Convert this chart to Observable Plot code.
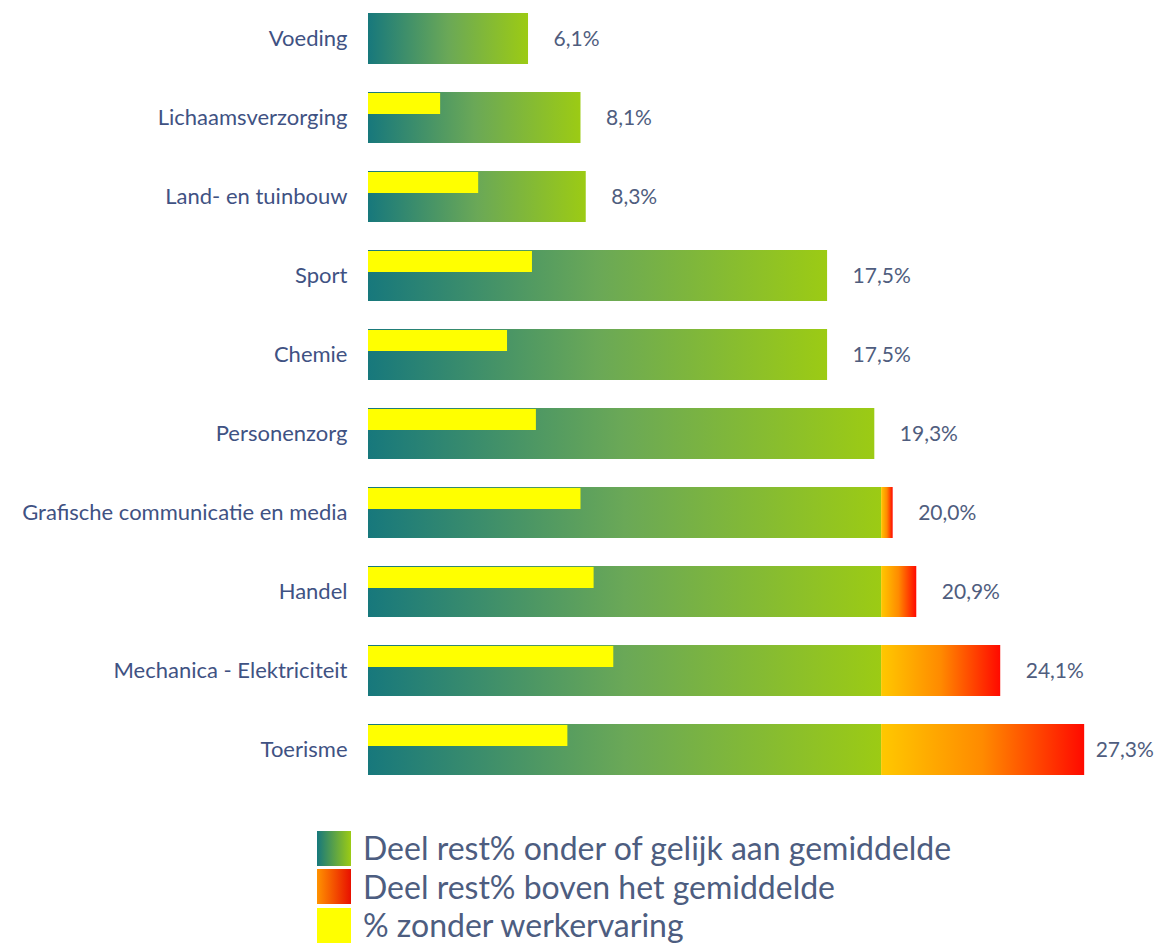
<!DOCTYPE html>
<html>
<head>
<meta charset="utf-8">
<script src="https://cdn.jsdelivr.net/npm/d3@7"></script>
<script src="https://cdn.jsdelivr.net/npm/@observablehq/plot@0.6"></script>
<style>
  body { margin: 0; background: #fff; font-family: Lato, "Open Sans", sans-serif; }
  #chart { position: relative; width: 1162px; }
  .legend { margin-left: 317px; margin-top: 29px; }
  .legend .row { display: flex; align-items: center; height: 38.5px; }
  .legend .sw { width: 34px; height: 35px; margin-right: 12px; }
  .legend .lbl { font-size: 32px; line-height: 38px; color: #4d5d80; white-space: nowrap; }
</style>
</head>
<body>
<div id="chart"></div>
<script>
const categories = [
  "Voeding", "Lichaamsverzorging", "Land- en tuinbouw", "Sport", "Chemie",
  "Personenzorg", "Grafische communicatie en media", "Handel",
  "Mechanica - Elektriciteit", "Toerisme"
];
const restPct = [6.1, 8.1, 8.3, 17.5, 17.5, 19.3, 20.0, 20.9, 24.1, 27.3];
const zonderWerkervaring = [0, 2.75, 4.2, 6.25, 5.3, 6.4, 8.1, 8.6, 9.35, 7.6];
const gemiddelde = 19.56;
const valueLabels = ["6,1%", "8,1%", "8,3%", "17,5%", "17,5%", "19,3%", "20,0%", "20,9%", "24,1%", "27,3%"];
const legendLabels = [
  "Deel rest% onder of gelijk aan gemiddelde",
  "Deel rest% boven het gemiddelde",
  "% zonder werkervaring"
];

const rows = categories.map((c, i) => ({
  cat: c, total: restPct[i], zonder: zonderWerkervaring[i], label: valueLabels[i]
}));
const above = rows.filter(d => d.total > gemiddelde);
const maxTotal = d3.max(restPct);

const plot = Plot.plot({
  width: 1162,
  height: 800,
  marginLeft: 368,
  marginRight: 7,
  marginTop: 0,
  marginBottom: 12,
  style: { fontFamily: "Lato, 'Open Sans', sans-serif", background: "#fff" },
  x: { domain: [0, 30], axis: null },
  y: { domain: categories, paddingInner: 0.355, paddingOuter: 0.11, label: null },
  marks: [
    Plot.axisY({ tickSize: 0, tickPadding: 21, fontSize: 22, fill: "#3f5283", label: null }),
    Plot.barX(rows, { y: "cat", x1: 0, x2: d => Math.min(d.total, gemiddelde), fill: "url(#gGreen)" }),
    Plot.barX(above, { y: "cat", x1: gemiddelde, x2: "total", fill: "url(#gRed)" }),
    Plot.barX(rows.filter(d => d.zonder > 0), { y: "cat", x1: 0, x2: "zonder", fill: "#ffff00", insetTop: 1, insetBottom: 29 }),
    Plot.text(rows.filter(d => d.total < maxTotal), { y: "cat", x: "total", text: "label", dx: 25, textAnchor: "start", fontSize: 21, fill: "#4f5d7e" }),
    Plot.text(rows.filter(d => d.total === maxTotal), { y: "cat", x: "total", text: "label", dx: 11, textAnchor: "start", fontSize: 21, fill: "#4f5d7e" })
  ]
});

const defs = d3.select(plot).insert("defs", ":first-child");
const g1 = defs.append("linearGradient").attr("id", "gGreen").attr("x1", 0).attr("x2", 1).attr("y1", 0).attr("y2", 0);
g1.append("stop").attr("offset", "0%").attr("stop-color", "#17787c");
g1.append("stop").attr("offset", "50%").attr("stop-color", "#6aa857");
g1.append("stop").attr("offset", "100%").attr("stop-color", "#9ccb14");
const g2 = defs.append("linearGradient").attr("id", "gRed").attr("x1", 0).attr("x2", 1).attr("y1", 0).attr("y2", 0);
g2.append("stop").attr("offset", "0%").attr("stop-color", "#ffc800");
g2.append("stop").attr("offset", "50%").attr("stop-color", "#ff8a00");
g2.append("stop").attr("offset", "100%").attr("stop-color", "#ff0a00");

const chart = document.getElementById("chart");
chart.appendChild(plot);

const swatches = [
  "linear-gradient(to right, #17787c, #9ccb14)",
  "linear-gradient(to right, #ff9200, #e81000)",
  "#ffff00"
];
const legend = document.createElement("div");
legend.className = "legend";
legendLabels.forEach((t, i) => {
  const r = document.createElement("div");
  r.className = "row";
  const s = document.createElement("div");
  s.className = "sw";
  s.style.background = swatches[i];
  const l = document.createElement("span");
  l.className = "lbl";
  l.textContent = t;
  r.appendChild(s); r.appendChild(l);
  legend.appendChild(r);
});
chart.appendChild(legend);
</script>
</body>
</html>
